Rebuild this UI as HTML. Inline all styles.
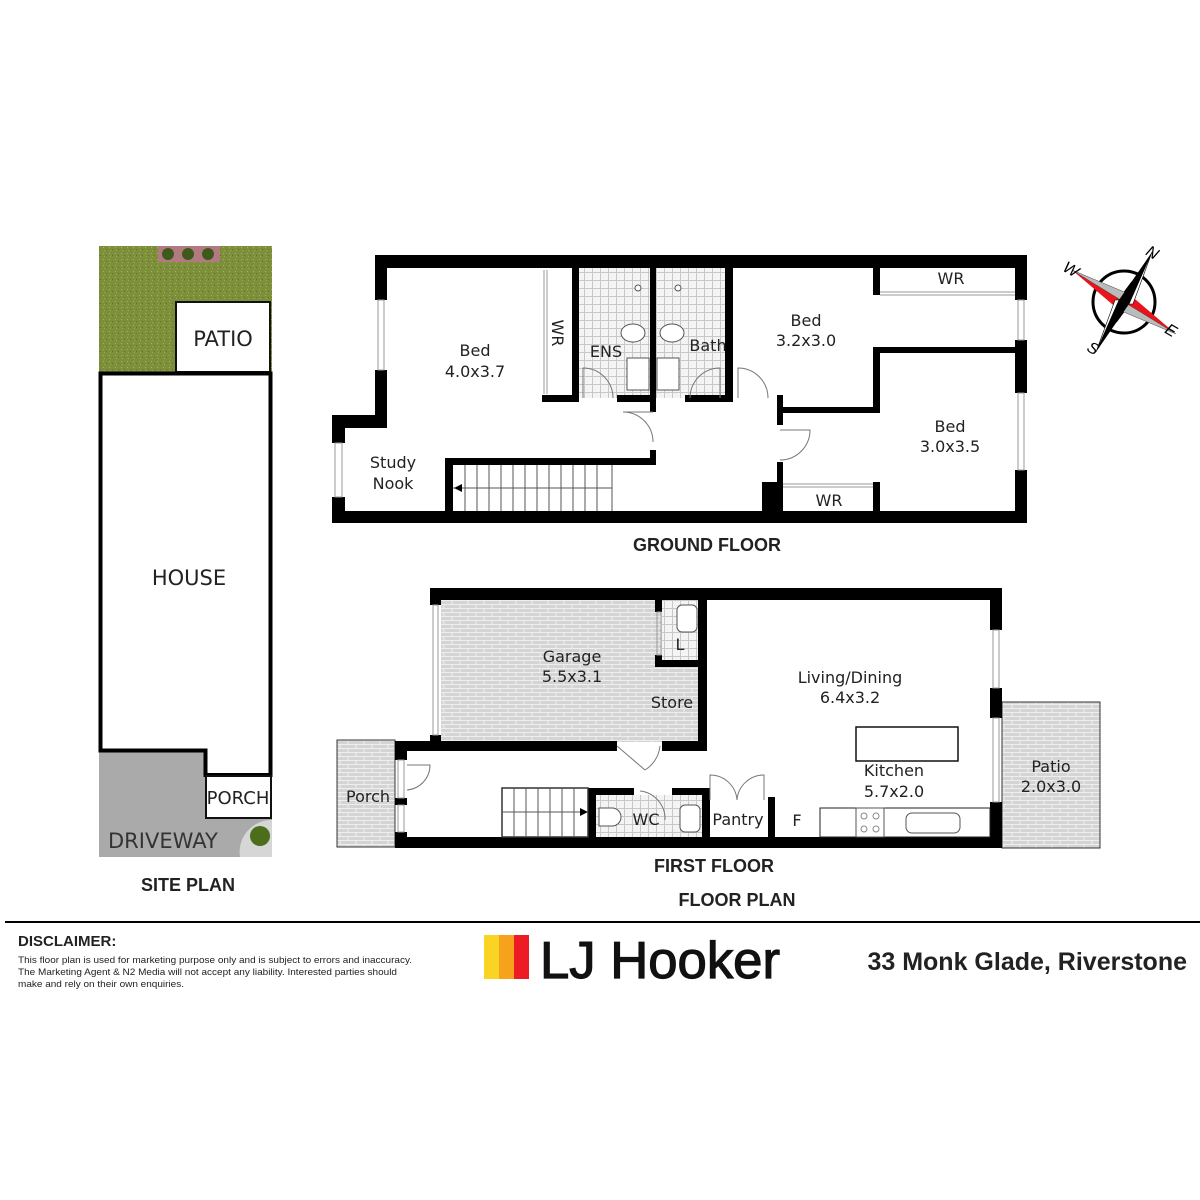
<!DOCTYPE html>
<html><head><meta charset="utf-8"><style>
html,body{margin:0;padding:0;background:#fff;width:1200px;height:1200px;overflow:hidden}
svg{display:block}
text{font-family:"Liberation Sans",sans-serif}
.l{font-family:"DejaVu Sans","Liberation Sans",sans-serif;font-size:16px;fill:#222}
.b{font-weight:bold;fill:#222}
</style></head><body>
<svg width="1200" height="1200" viewBox="0 0 1200 1200" xmlns="http://www.w3.org/2000/svg">
<defs>
<pattern id="brick" width="16" height="8" patternUnits="userSpaceOnUse">
<rect width="16" height="8" fill="#d4d4d4"/>
<path d="M0 0.5H16M0 4.5H16M4 0.5V4.5M12 4.5V8.5" stroke="#eee" stroke-width="1"/>
</pattern>
<pattern id="tile" width="8" height="8" patternUnits="userSpaceOnUse">
<rect width="8" height="8" fill="#f4f4f4"/>
<path d="M0 0.5H8M0.5 0V8" stroke="#c8c8c8" stroke-width="1"/>
</pattern>
<pattern id="grass" width="6" height="6" patternUnits="userSpaceOnUse">
<rect width="6" height="6" fill="#7d8f3a"/>
<rect x="1" y="1" width="1" height="1" fill="#a5b45a"/><rect x="4" y="3" width="1" height="1" fill="#5f7028"/><rect x="2" y="4" width="1" height="1" fill="#9aac4c"/>
</pattern>
</defs>

<!-- SITE PLAN -->
<rect x="99" y="246" width="173" height="126" fill="url(#grass)"/>
<rect x="158" y="246" width="62" height="16" fill="#b07a80"/>
<circle cx="168" cy="254" r="6" fill="#3d5a1a"/><circle cx="188" cy="254" r="6" fill="#3d5a1a"/><circle cx="208" cy="254" r="6" fill="#3d5a1a"/>
<rect x="176" y="302" width="94" height="70" fill="#fff" stroke="#111" stroke-width="2"/>
<text x="223" y="346" class="l" style="font-size:21px" text-anchor="middle">PATIO</text>
<rect x="99" y="750" width="173" height="107" fill="#aaaaaa"/>
<path d="M240 857 A32 32 0 0 1 272 820 V857Z" fill="#d6d6d6"/>
<circle cx="260" cy="836" r="10" fill="#4a6e1c"/>
<path d="M100.5 373.5 H270.5 V775 H205.5 V750.5 H100.5 Z" fill="#fff" stroke="#000" stroke-width="4"/>
<rect x="206" y="776" width="65" height="42" fill="#fff" stroke="#111" stroke-width="2"/>
<text x="189" y="585" class="l" style="font-size:21px" text-anchor="middle">HOUSE</text>
<text x="238" y="804" class="l" style="font-size:18px" text-anchor="middle">PORCH</text>
<text x="108" y="848" class="l" style="font-size:21px;fill:#333">DRIVEWAY</text>
<text x="188" y="891" class="b" font-size="18" text-anchor="middle">SITE PLAN</text>

<!-- GROUND FLOOR -->
<rect x="572" y="268" width="153" height="130" fill="url(#tile)"/>
<g fill="#000">
<rect x="375" y="255" width="652" height="13"/>
<rect x="375" y="255" width="12" height="45"/><rect x="375" y="370" width="12" height="58"/>
<rect x="332" y="415" width="55" height="13"/>
<rect x="332" y="415" width="13" height="28"/><rect x="332" y="497" width="13" height="26"/>
<rect x="332" y="511" width="695" height="12"/>
<rect x="1015" y="255" width="12" height="45"/><rect x="1015" y="340" width="12" height="53"/><rect x="1015" y="470" width="12" height="53"/>
<rect x="572" y="268" width="7" height="134"/>
<rect x="542" y="395" width="37" height="7"/>
<rect x="617" y="395" width="39" height="7"/>
<rect x="650" y="268" width="6" height="144"/><rect x="650" y="450" width="6" height="15"/>
<rect x="685" y="395" width="48" height="7"/>
<rect x="725" y="268" width="8" height="134"/>
<rect x="445" y="458" width="211" height="7"/>
<rect x="445" y="458" width="8" height="60"/>
<rect x="777" y="395" width="6" height="30"/><rect x="777" y="462" width="6" height="20"/>
<rect x="762" y="482" width="21" height="35"/>
<rect x="777" y="407" width="103" height="6"/>
<rect x="873" y="347" width="7" height="66"/>
<rect x="873" y="347" width="154" height="6"/>
<rect x="873" y="268" width="7" height="27"/>
<rect x="873" y="482" width="7" height="35"/>
</g>
<g stroke="#999" fill="none" stroke-width="1">
<rect x="378" y="300" width="6" height="70"/><rect x="335" y="443" width="7" height="54"/>
<rect x="1018" y="300" width="6" height="40"/><rect x="1018" y="393" width="6" height="77"/>
<line x1="544" y1="270" x2="544" y2="394"/><line x1="547" y1="270" x2="547" y2="394"/>
<line x1="880" y1="292" x2="1015" y2="292"/><line x1="880" y1="295" x2="1015" y2="295"/>
<line x1="783" y1="484" x2="873" y2="484"/><line x1="783" y1="487" x2="873" y2="487"/>
<path d="M583 398 V368 A30 30 0 0 1 613 398" stroke="#777"/>
<path d="M690 398 A30 30 0 0 1 720 368 V398" stroke="#777"/>
<path d="M738 398 V368 A30 30 0 0 1 768 398" stroke="#777"/>
<path d="M653 412 H623 A30 30 0 0 1 653 442" stroke="#777"/>
<path d="M780 430 H810 A30 30 0 0 1 780 460" stroke="#777"/>
</g>
<g stroke="#555" stroke-width="1">
<line x1="453" y1="488" x2="612" y2="488"/><line x1="612" y1="465" x2="612" y2="511"/>
<line x1="465" y1="465" x2="465" y2="511"/><line x1="477" y1="465" x2="477" y2="511"/><line x1="489" y1="465" x2="489" y2="511"/><line x1="501" y1="465" x2="501" y2="511"/><line x1="513" y1="465" x2="513" y2="511"/><line x1="525" y1="465" x2="525" y2="511"/><line x1="537" y1="465" x2="537" y2="511"/><line x1="549" y1="465" x2="549" y2="511"/><line x1="561" y1="465" x2="561" y2="511"/><line x1="573" y1="465" x2="573" y2="511"/><line x1="585" y1="465" x2="585" y2="511"/><line x1="597" y1="465" x2="597" y2="511"/>
</g>
<path d="M454 488 L462 484 V492Z" fill="#000"/>
<g fill="#fff" stroke="#555">
<ellipse cx="633" cy="333" rx="12" ry="9"/><ellipse cx="672" cy="333" rx="12" ry="9"/>
<rect x="627" y="358" width="22" height="32"/><rect x="657" y="358" width="22" height="32"/>
<circle cx="638" cy="288" r="3"/><circle cx="678" cy="288" r="3"/>
</g>
<text x="475" y="356" class="l" text-anchor="middle">Bed</text>
<text x="475" y="377" class="l" text-anchor="middle">4.0x3.7</text>
<text x="552" y="333" class="l" transform="rotate(90 552 333)" text-anchor="middle">WR</text>
<text x="606" y="357" class="l" text-anchor="middle">ENS</text>
<text x="708" y="351" class="l" text-anchor="middle">Bath</text>
<text x="806" y="326" class="l" text-anchor="middle">Bed</text>
<text x="806" y="346" class="l" text-anchor="middle">3.2x3.0</text>
<text x="951" y="284" class="l" text-anchor="middle">WR</text>
<text x="950" y="432" class="l" text-anchor="middle">Bed</text>
<text x="950" y="452" class="l" text-anchor="middle">3.0x3.5</text>
<text x="829" y="506" class="l" text-anchor="middle">WR</text>
<text x="393" y="468" class="l" text-anchor="middle">Study</text>
<text x="393" y="489" class="l" text-anchor="middle">Nook</text>
<text x="707" y="551" class="b" font-size="18" text-anchor="middle">GROUND FLOOR</text>

<!-- FIRST FLOOR -->
<rect x="441" y="600" width="259" height="142" fill="url(#brick)"/>
<rect x="662" y="600" width="38" height="60" fill="url(#tile)"/>
<rect x="337" y="740" width="58" height="107" fill="url(#brick)" stroke="#333" stroke-width="1"/>
<rect x="1002" y="702" width="98" height="146" fill="url(#brick)" stroke="#333" stroke-width="1"/>
<rect x="596" y="795" width="106" height="42" fill="url(#tile)"/>
<g fill="#000">
<rect x="430" y="588" width="572" height="12"/>
<rect x="430" y="588" width="11" height="17"/><rect x="430" y="735" width="11" height="16"/>
<rect x="395" y="741" width="222" height="10"/>
<rect x="662" y="741" width="45" height="10"/>
<rect x="698" y="600" width="9" height="151"/>
<rect x="655" y="600" width="7" height="12"/><rect x="655" y="655" width="7" height="12"/>
<rect x="655" y="660" width="45" height="7"/>
<rect x="395" y="741" width="12" height="19"/><rect x="395" y="798" width="12" height="7"/><rect x="395" y="832" width="12" height="16"/>
<rect x="395" y="837" width="607" height="11"/>
<rect x="990" y="588" width="12" height="42"/><rect x="990" y="688" width="12" height="30"/><rect x="990" y="802" width="12" height="46"/>
<rect x="588" y="788" width="8" height="49"/>
<rect x="588" y="788" width="46" height="7"/><rect x="672" y="788" width="38" height="7"/>
<rect x="702" y="788" width="8" height="49"/>
<rect x="768" y="797" width="7" height="40"/>
</g>
<g stroke="#999" fill="none" stroke-width="1">
<rect x="433" y="605" width="5" height="130"/>
<rect x="398" y="760" width="6" height="38"/><rect x="398" y="805" width="6" height="27"/>
<rect x="993" y="630" width="6" height="58"/><rect x="993" y="718" width="6" height="84"/>
<rect x="657" y="612" width="4" height="43"/>
<path d="M407 765 H430 A25 25 0 0 1 407 790" stroke="#777"/>
<path d="M617 746 L645 770 M660 746 A32 32 0 0 1 645 770" stroke="#777"/>
<path d="M640 791 A28 28 0 0 1 665 820" stroke="#777"/>
<path d="M710 800 V775 A27 27 0 0 1 737 800 M737 800 A27 27 0 0 1 764 775 V800" stroke="#777"/>
</g>
<rect x="502" y="788" width="86" height="49" fill="#fff" stroke="#333" stroke-width="1.5"/>
<g stroke="#555" stroke-width="1">
<line x1="502" y1="812" x2="588" y2="812"/>
<line x1="514" y1="788" x2="514" y2="837"/><line x1="526" y1="788" x2="526" y2="837"/><line x1="538" y1="788" x2="538" y2="837"/><line x1="550" y1="788" x2="550" y2="837"/><line x1="562" y1="788" x2="562" y2="837"/><line x1="574" y1="788" x2="574" y2="837"/>
</g>
<path d="M588 812 L580 808 V816Z" fill="#000"/>
<g fill="#fff" stroke="#555">
<path d="M599 808 H612 A9 9 0 0 1 612 826 H599Z"/>
<rect x="680" y="805" width="20" height="27" rx="5"/>
<rect x="677" y="605" width="20" height="27" rx="5"/>
<rect x="820" y="808" width="170" height="29" stroke="#222"/>
<rect x="856" y="808" width="28" height="29"/>
<rect x="906" y="813" width="54" height="20" rx="6"/>
</g>
<g fill="none" stroke="#888"><circle cx="864" cy="816" r="3"/><circle cx="876" cy="816" r="3"/><circle cx="864" cy="829" r="3"/><circle cx="876" cy="829" r="3"/></g>
<rect x="856" y="727" width="102" height="34" fill="#fff" stroke="#111" stroke-width="1.5"/>
<text x="572" y="662" class="l" text-anchor="middle">Garage</text>
<text x="572" y="682" class="l" text-anchor="middle">5.5x3.1</text>
<text x="680" y="650" class="l" text-anchor="middle">L</text>
<text x="672" y="708" class="l" text-anchor="middle">Store</text>
<text x="850" y="683" class="l" text-anchor="middle">Living/Dining</text>
<text x="850" y="703" class="l" text-anchor="middle">6.4x3.2</text>
<text x="894" y="776" class="l" text-anchor="middle">Kitchen</text>
<text x="894" y="797" class="l" text-anchor="middle">5.7x2.0</text>
<text x="1051" y="772" class="l" text-anchor="middle">Patio</text>
<text x="1051" y="792" class="l" text-anchor="middle">2.0x3.0</text>
<text x="368" y="802" class="l" text-anchor="middle">Porch</text>
<text x="646" y="825" class="l" text-anchor="middle">WC</text>
<text x="738" y="825" class="l" text-anchor="middle">Pantry</text>
<text x="797" y="826" class="l" text-anchor="middle">F</text>
<text x="714" y="872" class="b" font-size="18" text-anchor="middle">FIRST FLOOR</text>
<text x="737" y="906" class="b" font-size="18" text-anchor="middle">FLOOR PLAN</text>

<!-- COMPASS -->
<g transform="translate(1124 302)">
<circle r="31" fill="none" stroke="#000" stroke-width="3"/>
<path d="M0 -22 L5 -5 L22 0 L5 5 L0 22 L-5 5 L-22 0 L-5 -5Z" fill="#000" transform="rotate(20)"/>
<path d="M-52 -32 L0 0 L-5 8Z" fill="#e8141c"/><path d="M-52 -32 L0 0 L5 -8Z" fill="#bbb" stroke="#444" stroke-width="0.5"/>
<path d="M52 32 L0 0 L5 -8Z" fill="#e8141c"/><path d="M52 32 L0 0 L-5 8Z" fill="#bbb" stroke="#444" stroke-width="0.5"/>
<path d="M28 -50 L-5 -2 L5 2Z" fill="#000"/><path d="M-28 50 L5 2 L-5 -2Z" fill="#000"/>
<path d="M28 -50 L5 2 L9 2Z" fill="#fff" stroke="#000" stroke-width="0.6"/>
<path d="M-28 50 L-5 -2 L-9 -2Z" fill="#fff" stroke="#000" stroke-width="0.6"/>
</g>
<text x="1147" y="258" font-family="Liberation Serif,serif" font-style="italic" font-size="16" transform="rotate(30 1153 252)">N</text>
<text x="1064" y="274" font-family="Liberation Serif,serif" font-style="italic" font-size="16" transform="rotate(30 1070 268)">W</text>
<text x="1166" y="336" font-family="Liberation Serif,serif" font-style="italic" font-size="16" transform="rotate(30 1172 330)">E</text>
<text x="1088" y="354" font-family="Liberation Serif,serif" font-style="italic" font-size="16" transform="rotate(30 1094 348)">S</text>

<!-- FOOTER -->
<rect x="5" y="921" width="1195" height="2" fill="#000"/>
<text x="18" y="946" class="b" font-size="15">DISCLAIMER:</text>
<text x="18" y="963" font-size="9.5" fill="#222" textLength="394" lengthAdjust="spacingAndGlyphs">This floor plan is used for marketing purpose only and is subject to errors and inaccuracy.</text>
<text x="18" y="975" font-size="9.5" fill="#222" textLength="379" lengthAdjust="spacingAndGlyphs">The Marketing Agent &amp; N2 Media will not accept any liability. Interested parties should</text>
<text x="18" y="987" font-size="9.5" fill="#222" textLength="166" lengthAdjust="spacingAndGlyphs">make and rely on their own enquiries.</text>
<rect x="484" y="935" width="15" height="44" fill="#f9d423"/>
<rect x="499" y="935" width="15" height="44" fill="#f7a21b"/>
<rect x="514" y="935" width="15" height="44" fill="#ed1c24"/>
<text x="540" y="978" font-size="52" fill="#111" stroke="#111" stroke-width="1.2" textLength="240" lengthAdjust="spacingAndGlyphs">LJ Hooker</text>
<text x="1187" y="970" class="b" font-size="25" text-anchor="end">33 Monk Glade, Riverstone</text>
</svg>
</body></html>
